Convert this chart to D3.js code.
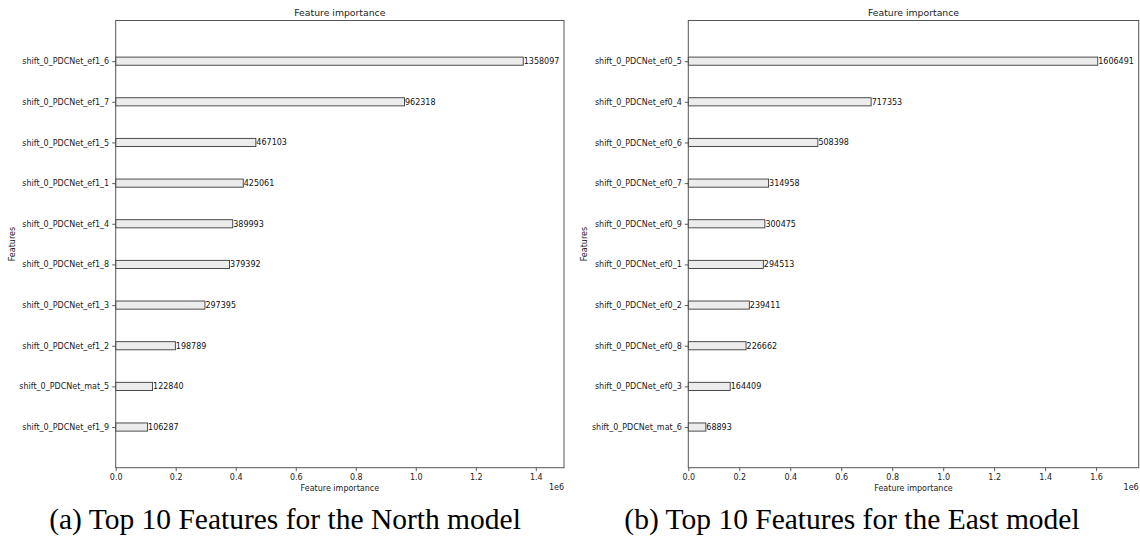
<!DOCTYPE html>
<html>
<head>
<meta charset="utf-8">
<script src="https://cdn.jsdelivr.net/npm/d3@7"></script>
<style>
html,body{margin:0;padding:0;background:#fff;}
svg{display:block;}
</style>
</head>
<body>
<svg id="chart" width="1140" height="545"></svg>
<script>
// ---- data ----
const northFeatures = ["shift_0_PDCNet_ef1_6","shift_0_PDCNet_ef1_7","shift_0_PDCNet_ef1_5","shift_0_PDCNet_ef1_1","shift_0_PDCNet_ef1_4","shift_0_PDCNet_ef1_8","shift_0_PDCNet_ef1_3","shift_0_PDCNet_ef1_2","shift_0_PDCNet_mat_5","shift_0_PDCNet_ef1_9"];
const northValues = [1358097, 962318, 467103, 425061, 389993, 379392, 297395, 198789, 122840, 106287];
const eastFeatures = ["shift_0_PDCNet_ef0_5","shift_0_PDCNet_ef0_4","shift_0_PDCNet_ef0_6","shift_0_PDCNet_ef0_7","shift_0_PDCNet_ef0_9","shift_0_PDCNet_ef0_1","shift_0_PDCNet_ef0_2","shift_0_PDCNet_ef0_8","shift_0_PDCNet_ef0_3","shift_0_PDCNet_mat_6"];
const eastValues = [1606491, 717353, 508398, 314958, 300475, 294513, 239411, 226662, 164409, 68893];
const northTicks = [0, 0.2e6, 0.4e6, 0.6e6, 0.8e6, 1.0e6, 1.2e6, 1.4e6];
const eastTicks = [0, 0.2e6, 0.4e6, 0.6e6, 0.8e6, 1.0e6, 1.2e6, 1.4e6, 1.6e6];
const captions = ["(a) Top 10 Features for the North model", "(b) Top 10 Features for the East model"];

const svg = d3.select("#chart");
const FONT = "DejaVu Sans, sans-serif";
const plotTop = 20.5, plotBottom = 467.7;

function panel(features, values, ticks, left, right, caption, capX) {
  const g = svg.append("g");
  const n = values.length;
  const x = d3.scaleLinear().domain([0, d3.max(values) * 1.1]).range([left, right]);
  // y: position index (0 = bottom item), domain [-1, n]
  const y = d3.scaleLinear().domain([-1, n]).range([plotBottom, plotTop]);
  const barH = Math.abs(y(0.1) - y(-0.1));

  // bars
  g.selectAll("rect.bar").data(values).join("rect")
    .attr("class", "bar")
    .attr("x", x(0))
    .attr("y", (d, i) => y(n - 1 - i) - barH / 2)
    .attr("width", d => x(d) - x(0))
    .attr("height", barH)
    .attr("fill", "#ececec")
    .attr("stroke", "#3a3a3a")
    .attr("stroke-width", 0.9);

  // value labels
  g.selectAll("text.val").data(values).join("text")
    .attr("class", "val")
    .attr("x", d => x(d) + 0.5)
    .attr("y", (d, i) => y(n - 1 - i))
    .attr("dy", "0.35em")
    .attr("font-family", FONT).attr("font-size", 8)
    .attr("fill", "#111")
    .text(d => d);

  // x axis
  const xAxis = d3.axisBottom(x).tickValues(ticks).tickSize(3.5).tickPadding(3)
    .tickFormat(d => (d / 1e6).toFixed(1));
  const xg = g.append("g").attr("transform", `translate(0,${plotBottom})`).call(xAxis);
  xg.select(".domain").remove();
  xg.selectAll("line").attr("stroke", "#333").attr("stroke-width", 0.8);
  xg.selectAll("text").attr("font-family", FONT).attr("font-size", 8).attr("fill", "#222");

  // y axis
  const yAxis = d3.axisLeft(y).tickValues(d3.range(n)).tickSize(3.5).tickPadding(3)
    .tickFormat(i => features[n - 1 - i]);
  const yg = g.append("g").attr("transform", `translate(${left},0)`).call(yAxis);
  yg.select(".domain").remove();
  yg.selectAll("line").attr("stroke", "#333").attr("stroke-width", 0.8);
  yg.selectAll("text").attr("font-family", FONT).attr("font-size", 8).attr("fill", "#222");

  // frame
  g.append("rect").attr("x", left).attr("y", plotTop)
    .attr("width", right - left).attr("height", plotBottom - plotTop)
    .attr("fill", "none").attr("stroke", "#555").attr("stroke-width", 1);

  // title
  g.append("text").attr("x", (left + right) / 2).attr("y", 15.5)
    .attr("text-anchor", "middle").attr("font-family", FONT).attr("font-size", 9.3)
    .attr("fill", "#222").text("Feature importance");
  // x label
  g.append("text").attr("x", (left + right) / 2).attr("y", 491)
    .attr("text-anchor", "middle").attr("font-family", FONT).attr("font-size", 8)
    .attr("fill", "#222").text("Feature importance");
  // offset text
  g.append("text").attr("x", right).attr("y", 490)
    .attr("text-anchor", "end").attr("font-family", FONT).attr("font-size", 8)
    .attr("fill", "#222").text("1e6");
  // y label
  g.append("text").attr("transform", `translate(${left - 101},${(plotTop + plotBottom) / 2}) rotate(-90)`)
    .attr("text-anchor", "middle").attr("font-family", FONT).attr("font-size", 8)
    .attr("fill", "#222").text("Features");
  // caption
  g.append("text").attr("x", capX).attr("y", 529)
    .attr("text-anchor", "middle").attr("font-family", "'Liberation Serif', 'Times New Roman', serif")
    .attr("font-size", 29.5).attr("fill", "#000").text(caption);
}

panel(northFeatures, northValues, northTicks, 115.7, 564, captions[0], 285);
panel(eastFeatures, eastValues, eastTicks, 688.3, 1138.7, captions[1], 852);
</script>
</body>
</html>
